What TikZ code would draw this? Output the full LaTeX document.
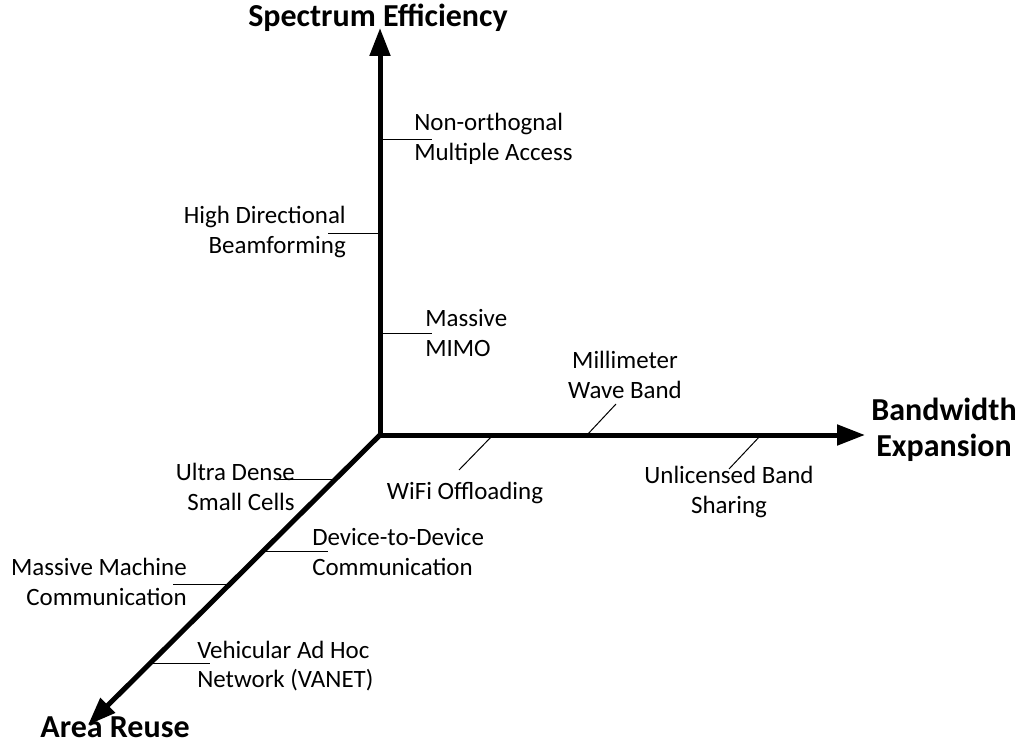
\documentclass[tikz,border=0pt]{standalone}
\usepackage{fontspec}
\setmainfont{Carlito}
\usetikzlibrary{arrows.meta}

\begin{document}
\begin{tikzpicture}[x=0.75pt, y=-0.75pt,
    axis/.style={line width=3.75pt, -{Triangle[length=21pt,width=15pt]}},
    tick/.style={line width=0.75pt},
    lbl/.style={inner sep=0pt, font=\fontsize{18.7}{22}\selectfont},
    ttl/.style={inner sep=0pt, align=center, font=\fontsize{24}{27}\selectfont\bfseries}
  ]
    \useasboundingbox (0,0) rectangle (1020,745);

    % tick marks (axis point / free end)
    \foreach \n/\ax/\ay/\tx/\ty in {noma/380/140/432/140, hdb/380/234/328/234,
        mimo/380/333/432/333, mmw/587/435/616/404, wifi/493/435/459/470,
        ulb/761/435/729/469, udn/336/479/278/479, dtd/263/551/328/551,
        mmc/230/584/173/584, vanet/150/663/210/663} {
      \coordinate (\n-a) at (\ax,\ay);
      \coordinate (\n-t) at (\tx,\ty);
      \draw[tick] (\n-a) -- (\n-t);
    }

    % axes
    \coordinate (O) at (380,435);
    \coordinate (se) at (380,28);
    \coordinate (bw) at (865,435);
    \coordinate (ar) at (88,725);
    \draw[axis, line cap=rect] (O) -- (se);
    \draw[axis, line cap=rect] (O) -- (bw);
    \draw[axis] (O) -- (ar);

    \node[ttl, anchor=base] (seT) at (378,27) {Spectrum Efficiency};
    \node[ttl] (bwT) at (944,430) {Bandwidth\\Expansion};
    \node[ttl, anchor=base] (arT) at (115,737) {Area Reuse};

    % labels
    \node[lbl, anchor=west, align=left] (noma) at (414,139) {Non-orthognal\\Multiple Access};
    \node[lbl, anchor=east, align=right] (hdb) at (346,232) {High Directional\\Beamforming};
    \node[lbl, anchor=west, align=left] (mimo) at (425,333) {Massive\\MIMO};
    \node[lbl, align=center] (mmw) at (625,375) {Millimeter\\Wave Band};
    \node[lbl] (wifi) at (465,493) {WiFi Offloading};
    \node[lbl, align=center] (ulb) at (729,492) {Unlicensed Band\\Sharing};
    \node[lbl, anchor=east, align=right] (udn) at (295,487) {Ultra Dense\\Small Cells};
    \node[lbl, anchor=west, align=left] (dtd) at (312,552) {Device-to-Device\\Communication};
    \node[lbl, anchor=east, align=right] (mmc) at (187,582) {Massive Machine\\Communication};
    \node[lbl, anchor=west, align=left] (vanet) at (197,666) {Vehicular Ad Hoc\\Network (VANET)};
\end{tikzpicture}
\end{document}
